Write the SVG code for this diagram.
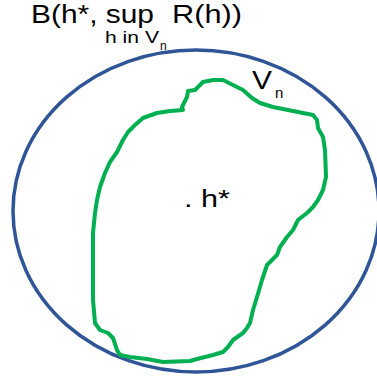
<svg xmlns="http://www.w3.org/2000/svg" width="377" height="379" viewBox="0 0 377 379">
<style>
text{font-family:"Liberation Sans",Arial,sans-serif;fill:#000}
.outer{fill:none;stroke:#2F5597;stroke-width:3.5}
.region{fill:none;stroke:#00B050;stroke-width:4;stroke-linejoin:round;stroke-linecap:round}
</style>
<rect width="377" height="379" fill="#fff"/>
<g id="ball">
<ellipse class="outer" cx="196" cy="211" rx="183" ry="161"/>
<text x="31" y="23" font-size="26" textLength="123" lengthAdjust="spacingAndGlyphs">B(h*, sup</text>
<text x="172" y="23" font-size="26" textLength="70" lengthAdjust="spacingAndGlyphs">R(h))</text>
<text x="105" y="43" font-size="17" textLength="54" lengthAdjust="spacingAndGlyphs">h in V</text>
<text x="160" y="50" font-size="12">n</text>
</g>
<g id="vn">
<polygon class="region" points="93,233 95,213 97,200 100,187 105,173 110,162 117,152 123,140 128,132 135,125 143,118 157,113 170,111 183,110 182,107 187,97 188,91 195,90 200,85 203,82 213,80 223,80 233,85 243,90 252,98 260,103 273,107 293,111 313,115 317,120 318,128 323,137 325,150 326,177 323,190 318,200 313,207 307,213 298,220 293,230 287,237 280,247 277,255 272,260 267,265 262,280 257,297 253,310 250,323 247,328 243,333 233,340 228,347 223,352 213,355 197,359 190,361 163,362 147,359 130,357 120,355 117,350 113,338 108,333 100,330 95,323 93,300 93,267"/>
<text x="252" y="89" font-size="25" textLength="20" lengthAdjust="spacingAndGlyphs">V</text>
<text x="275" y="98" font-size="15">n</text>
</g>
<g id="hstar">
<text x="184" y="207" font-size="23" textLength="46" lengthAdjust="spacingAndGlyphs">. h*</text>
</g>
</svg>
